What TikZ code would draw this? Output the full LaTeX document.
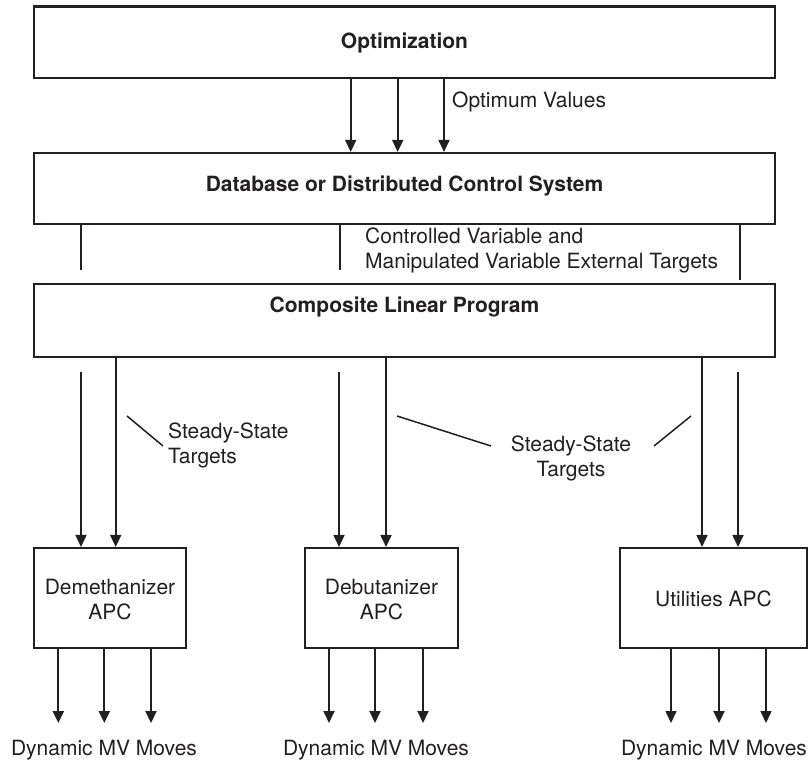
\documentclass[tikz,border=0pt]{standalone}
\usepackage{fontspec}
\setmainfont{TeX Gyre Heros}
\usetikzlibrary{arrows.meta}
\definecolor{ink}{HTML}{231F20}
\begin{document}
\begin{tikzpicture}[x=1pt,y=-1pt, color=ink,
  box/.style={draw, line width=2.1pt, inner sep=0pt},
  link/.style={line width=1.8pt},
  thin link/.style={line width=1.5pt},
  arr/.style={line width=1.8pt, -{Triangle[length=12pt,width=11pt]}},
  heavy arr/.style={arr, line width=2.2pt},
  lbl/.style={font=\fontsize{21}{25}\selectfont, inner sep=0pt, align=center},
  blbl/.style={font=\fontsize{21}{25}\selectfont\bfseries, inner sep=0pt, align=center},
]
\useasboundingbox (0,0) rectangle (812,762);

% --- the three wide layers ---
\node[box, minimum width=741, minimum height=71.5] (opt) at (404.5,42.25) {};
\node[blbl] (optt) at (404.5,42.5) {Optimization};
\node[box, minimum width=741, minimum height=71] (db) at (404.5,188.5) {};
\node[blbl] (dbt) at (404.5,186) {Database or Distributed Control System};
\node[box, minimum width=741, minimum height=73] (clp) at (404.5,320.5) {};
\node[blbl] (clpt) at (404.5,307) {Composite Linear Program};

% --- the three controllers ---
\node[box, minimum width=152, minimum height=100] (deme) at (110,598) {};
\node[lbl] (demet) at (110,600) {Demethanizer\\APC};
\node[box, minimum width=153, minimum height=100] (debu) at (381.5,598) {};
\node[lbl] (debut) at (381.5,600) {Debutanizer\\APC};
\node[box, minimum width=187, minimum height=100] (util) at (713.5,598) {};
\node[lbl] (utilt) at (713.5,599) {Utilities APC};

% --- optimum values ---
\foreach \n/\x in {oa/350.7,ob/397.7,oc/444} {
  \coordinate (\n) at (\x,0);
  \draw[arr] (opt.south -| \n) -- (db.north -| \n);
}
\node[lbl, anchor=west] (optv) at (452,102) {Optimum Values};

% --- external targets ---
\coordinate (ea) at (80.7,270);
\coordinate (eb) at (340,270);
\coordinate (ec) at (740,280);
\foreach \n in {ea,eb,ec} \draw[link] (db.south -| \n) -- (\n);
\node[lbl, anchor=north west, align=left] (ext) at (365,228)
  {Controlled Variable and\\Manipulated Variable External Targets};

% --- steady-state targets to the controllers ---
\coordinate (sa) at (81,372);
\coordinate (sb) at (339,372);
\coordinate (sc) at (738,372);
\foreach \n/\b in {sa/deme,sb/debu,sc/util} \draw[arr] (\n) -- (\b.north -| \n);
\coordinate (ta) at (115.7,0);
\coordinate (tb) at (386,0);
\coordinate (tc) at (702,0);
\draw[arr] (clp.south -| ta) -- (deme.north -| ta);
\draw[arr] (clp.south -| tb) -- (debu.north -| tb);
\draw[arr] (clp.south -| tc) -- (util.north -| tc);

\node[lbl, anchor=west, align=left] (ssa) at (168,445) {Steady-State\\Targets};
\node[lbl] (ssb) at (571,458) {Steady-State\\Targets};
\coordinate (la1) at (127,416); \coordinate (la2) at (163,446);
\coordinate (lb1) at (397,416); \coordinate (lb2) at (491,446);
\coordinate (lc1) at (691,416); \coordinate (lc2) at (654,446);
\draw[thin link] (la1) -- (la2);
\draw[thin link] (lb1) -- (lb2);
\draw[thin link] (lc1) -- (lc2);

% --- dynamic moves out of each controller ---
\foreach \n/\x in {da/58.3,db2/104.3,dc/151} {
  \coordinate (\n) at (\x,723);
  \draw[heavy arr] (deme.south -| \n) -- (\n);
}
\foreach \n/\x in {ea2/329,eb2/375,ec2/423} {
  \coordinate (\n) at (\x,723);
  \draw[arr] (debu.south -| \n) -- (\n);
}
\foreach \n/\x/\w in {fa/671/1.6pt,fb/719/2.2pt,fc/766/1.6pt} {
  \coordinate (\n) at (\x,723);
  \draw[arr, line width=\w] (util.south -| \n) -- (\n);
}
\node[lbl] (mva) at (104,750) {Dynamic MV Moves};
\node[lbl] (mvb) at (376,750) {Dynamic MV Moves};
\node[lbl] (mvc) at (714,750) {Dynamic MV Moves};
\end{tikzpicture}
\end{document}
